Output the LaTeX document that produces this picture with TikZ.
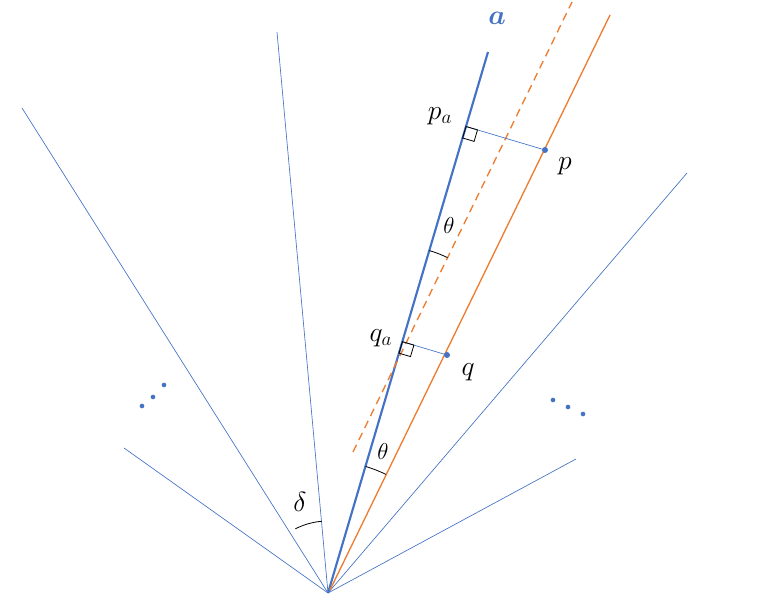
\documentclass[tikz,border=0pt]{standalone}
\usepackage{amsmath}
\usetikzlibrary{calc}
\definecolor{rb}{RGB}{68,114,196}
\definecolor{ro}{RGB}{237,125,49}
\begin{document}
\begin{tikzpicture}[x=0.75pt,y=0.75pt,
  thin ray/.style={rb,line width=0.5pt},
  lab/.style={font=\fontsize{22}{26}\selectfont},
  dotm/.style={circle,fill=rb,inner sep=0pt,minimum size=4.5pt}]
\useasboundingbox (0,0) rectangle (763,606);
\coordinate (O) at (328,13);
\coordinate (r1) at (22,498);
\coordinate (r2) at (277,574);
\coordinate (A) at (488,554);
\coordinate (r4) at (687,433);
\coordinate (r5) at (576,147);
\coordinate (r6) at (124,158);
\foreach \r in {r1,r2,r4,r5,r6} \draw[thin ray] (O) -- (\r);
\draw[rb,line width=1.6pt] (O) -- (A);
\draw[ro,line width=1pt] (330,16) coordinate (os) -- (610,591) coordinate (oe);
\draw[ro,line width=1pt,dash pattern=on 6pt off 4pt] (353,154) coordinate (ds) -- (572,604) coordinate (de);
\coordinate (p) at (545,456);
\coordinate (q) at (447,251);
\coordinate (pa) at (466,479.5);
\coordinate (qa) at (402.4,264.3);
\draw[thin ray] (pa) -- (p);
\draw[thin ray] (qa) -- (q);
\node[dotm] (pd) at (p) {};
\node[dotm] (qd) at (q) {};
\foreach \f in {pa,qa}
  \draw[black,line width=0.6pt] (\f) -- ++(11.5,-3.4) -- ++(-3.4,-11.5) -- ++(-11.5,3.4) -- cycle;
\coordinate (X) at (395.8,242.3);
\draw[black,line width=0.6pt] ($(X)+(64:118)$) arc (64:73.5:118);
\draw[black,line width=0.6pt] ($(O)+(64:132)$) arc (64:73.5:132);
\draw[black,line width=0.6pt] ($(O)+(95:72)$) arc (95:117:72);
\node[lab,font=\fontsize{16}{19}\selectfont] (th1) at (449,380) {$\theta$};
\node[lab,font=\fontsize{16}{19}\selectfont] (th2) at (383,154) {$\theta$};
\node[lab] (dl) at (300,104) {$\delta$};
\node[lab] (pl) at (565,440) {$p$};
\node[lab] (pal) at (440,490) {$p_a$};
\node[lab] (ql) at (468,234) {$q$};
\node[lab] (qal) at (381,268) {$q_a$};
\node[rb,lab] (al) at (497,588) {$\boldsymbol{a}$};
\foreach \x/\y in {142/200,153/209,164/221,553/206,568/199,583/192} \node[dotm,minimum size=3.5pt] at (\x,\y) {};
\end{tikzpicture}
\end{document}
